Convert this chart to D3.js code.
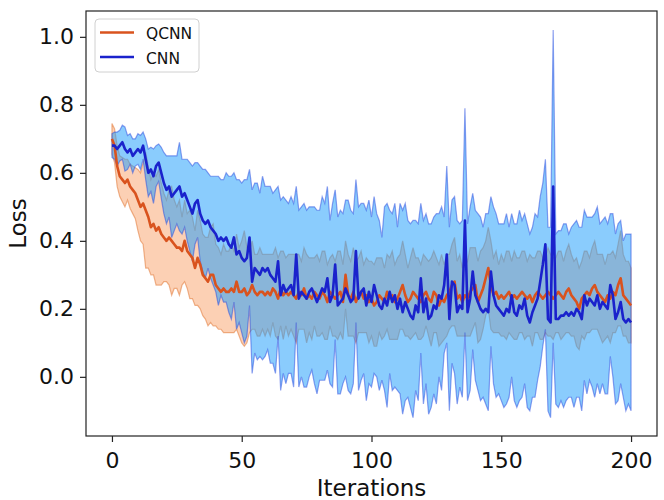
<!DOCTYPE html>
<html>
<head>
<meta charset="utf-8">
<script src="https://cdn.jsdelivr.net/npm/d3@7"></script>
<style>
    body { margin: 0; background: #fff; }
    text { font-family: 'DejaVu Sans', sans-serif; }
</style>
</head>
<body>
<div id="chart"></div>
<script>
const WIDTH = 664
const HEIGHT = 500

const seriesNames = ['QCNN', 'CNN']
const xTicks = [0, 50, 100, 150, 200]
const yTicks = [0.0, 0.2, 0.4, 0.6, 0.8, 1.0]

// mean loss per iteration
const qcnnMean = [
    0.70, 0.68, 0.62, 0.59, 0.58, 0.57, 0.58, 0.56, 0.55, 0.54,
    0.52, 0.50, 0.51, 0.49, 0.47, 0.44, 0.45, 0.43, 0.44, 0.42,
    0.41, 0.40, 0.41, 0.40, 0.39, 0.38, 0.38, 0.37, 0.40, 0.37,
    0.36, 0.35, 0.32, 0.35, 0.33, 0.30, 0.29, 0.28, 0.30, 0.30,
    0.27, 0.26, 0.25, 0.26, 0.25, 0.25, 0.26, 0.25, 0.28, 0.25,
    0.25, 0.26, 0.24, 0.25, 0.27, 0.25, 0.24, 0.25, 0.25, 0.24,
    0.25, 0.24, 0.26, 0.25, 0.23, 0.26, 0.24, 0.25, 0.24, 0.25,
    0.24, 0.23, 0.25, 0.24, 0.26, 0.23, 0.24, 0.23, 0.25, 0.24,
    0.23, 0.25, 0.24, 0.22, 0.25, 0.24, 0.23, 0.24, 0.25, 0.22,
    0.30, 0.24, 0.23, 0.25, 0.22, 0.24, 0.25, 0.23, 0.24, 0.22,
    0.23, 0.21, 0.22, 0.24, 0.23, 0.22, 0.25, 0.23, 0.24, 0.22,
    0.23, 0.25, 0.27, 0.24, 0.22, 0.23, 0.25, 0.24, 0.23, 0.22,
    0.24, 0.25, 0.23, 0.22, 0.25, 0.24, 0.21, 0.23, 0.22, 0.24,
    0.25, 0.27, 0.28, 0.23, 0.24, 0.22, 0.24, 0.23, 0.25, 0.26,
    0.27, 0.22, 0.24, 0.26, 0.29, 0.32, 0.27, 0.24, 0.25, 0.23,
    0.24, 0.23, 0.24, 0.25, 0.23, 0.24, 0.23, 0.24, 0.25, 0.24,
    0.23, 0.24, 0.22, 0.24, 0.25, 0.24, 0.23, 0.24, 0.25, 0.24,
    0.23, 0.24, 0.25, 0.24, 0.23, 0.25, 0.26, 0.24, 0.23, 0.22,
    0.20, 0.23, 0.24, 0.25, 0.24, 0.26, 0.27, 0.25, 0.24, 0.23,
    0.22, 0.24, 0.23, 0.25, 0.24, 0.27, 0.29, 0.24, 0.23, 0.22,
    0.21
]
const qcnnStd = [
    0.045, 0.05, 0.06, 0.06, 0.065, 0.07, 0.06, 0.065, 0.07, 0.075,
    0.09, 0.10, 0.12, 0.17, 0.15, 0.14, 0.15, 0.16, 0.17, 0.15,
    0.13, 0.12, 0.14, 0.16, 0.13, 0.12, 0.14, 0.10, 0.12, 0.11,
    0.13, 0.12, 0.11, 0.14, 0.13, 0.12, 0.12, 0.13, 0.14, 0.15,
    0.12, 0.12, 0.11, 0.13, 0.12, 0.12, 0.13, 0.12, 0.14, 0.13,
    0.15, 0.17, 0.14, 0.12, 0.13, 0.11, 0.12, 0.13, 0.11, 0.12,
    0.11, 0.12, 0.10, 0.13, 0.12, 0.11, 0.13, 0.10, 0.12, 0.11,
    0.12, 0.13, 0.11, 0.10, 0.12, 0.13, 0.11, 0.12, 0.10, 0.12,
    0.11, 0.12, 0.13, 0.11, 0.10, 0.12, 0.11, 0.13, 0.12, 0.11,
    0.10, 0.12, 0.11, 0.13, 0.12, 0.11, 0.12, 0.10, 0.11, 0.12,
    0.11, 0.12, 0.13, 0.11, 0.12, 0.10, 0.11, 0.12, 0.13, 0.11,
    0.12, 0.11, 0.13, 0.12, 0.10, 0.12, 0.13, 0.11, 0.12, 0.11,
    0.12, 0.10, 0.11, 0.13, 0.12, 0.11, 0.12, 0.13, 0.11, 0.12,
    0.11, 0.12, 0.13, 0.11, 0.12, 0.10, 0.12, 0.11, 0.13, 0.12,
    0.11, 0.12, 0.13, 0.12, 0.11, 0.12, 0.13, 0.11, 0.12, 0.10,
    0.12, 0.11, 0.13, 0.12, 0.11, 0.13, 0.12, 0.11, 0.12, 0.13,
    0.11, 0.12, 0.13, 0.11, 0.12, 0.13, 0.12, 0.11, 0.13, 0.12,
    0.12, 0.11, 0.12, 0.13, 0.11, 0.12, 0.13, 0.12, 0.11, 0.13,
    0.12, 0.11, 0.13, 0.12, 0.11, 0.12, 0.13, 0.11, 0.12, 0.13,
    0.11, 0.12, 0.13, 0.12, 0.11, 0.12, 0.14, 0.12, 0.11, 0.12,
    0.11
]
const cnnMean = [
    0.68, 0.68, 0.67, 0.68, 0.69, 0.67, 0.66, 0.67, 0.65, 0.66,
    0.67, 0.66, 0.68, 0.64, 0.60, 0.61, 0.59, 0.62, 0.63, 0.60,
    0.57, 0.55, 0.56, 0.53, 0.54, 0.55, 0.56, 0.53, 0.54, 0.52,
    0.50, 0.48, 0.51, 0.52, 0.48, 0.46, 0.45, 0.46, 0.44, 0.43,
    0.42, 0.40, 0.41, 0.40, 0.41, 0.39, 0.38, 0.41, 0.36, 0.37,
    0.35, 0.34, 0.35, 0.41, 0.28, 0.32, 0.31, 0.30, 0.32, 0.31,
    0.32, 0.30, 0.29, 0.28, 0.34, 0.24, 0.27, 0.25, 0.26, 0.27,
    0.24, 0.36, 0.23, 0.25, 0.24, 0.23, 0.25, 0.26, 0.24, 0.22,
    0.24, 0.26, 0.25, 0.29, 0.22, 0.24, 0.33, 0.21, 0.22, 0.23,
    0.26, 0.24, 0.22, 0.23, 0.37, 0.23, 0.25, 0.26, 0.21, 0.25,
    0.22, 0.27, 0.24, 0.21, 0.20, 0.23, 0.21, 0.25, 0.22, 0.24,
    0.20, 0.23, 0.19, 0.22, 0.20, 0.18, 0.17, 0.21, 0.19, 0.29,
    0.19, 0.23, 0.17, 0.18, 0.21, 0.20, 0.24, 0.23, 0.27, 0.36,
    0.17, 0.28, 0.27, 0.19, 0.21, 0.20, 0.46, 0.19, 0.23, 0.31,
    0.24, 0.22, 0.20, 0.19, 0.20, 0.19, 0.31, 0.24, 0.21, 0.20,
    0.19, 0.18, 0.20, 0.19, 0.24, 0.19, 0.18, 0.21, 0.20, 0.23,
    0.18, 0.16, 0.19, 0.21, 0.23, 0.28, 0.33, 0.39, 0.17, 0.16,
    0.56, 0.17, 0.17, 0.18, 0.18, 0.19, 0.18, 0.19, 0.18, 0.20,
    0.19, 0.17, 0.24, 0.21, 0.23, 0.22, 0.21, 0.24, 0.20, 0.22,
    0.21, 0.20, 0.27, 0.24, 0.17, 0.19, 0.22, 0.17, 0.16, 0.17,
    0.16
]
const cnnStd = [
    0.035, 0.04, 0.05, 0.045, 0.05, 0.065, 0.05, 0.045, 0.05, 0.04,
    0.045, 0.05, 0.04, 0.06, 0.07, 0.065, 0.08, 0.06, 0.055, 0.075,
    0.09, 0.10, 0.09, 0.12, 0.11, 0.10, 0.13, 0.11, 0.10, 0.12,
    0.13, 0.14, 0.12, 0.11, 0.14, 0.15, 0.16, 0.14, 0.15, 0.16,
    0.17, 0.19, 0.17, 0.18, 0.19, 0.20, 0.21, 0.19, 0.22, 0.21,
    0.22, 0.24, 0.23, 0.20, 0.27, 0.25, 0.26, 0.24, 0.27, 0.25,
    0.24, 0.26, 0.25, 0.27, 0.22, 0.28, 0.26, 0.27, 0.25, 0.26,
    0.27, 0.20, 0.26, 0.25, 0.27, 0.26, 0.25, 0.24, 0.26, 0.27,
    0.25, 0.27, 0.26, 0.27, 0.24, 0.27, 0.22, 0.26, 0.27, 0.25,
    0.26, 0.28, 0.27, 0.25, 0.21, 0.27, 0.26, 0.25, 0.28, 0.27,
    0.25, 0.26, 0.24, 0.25, 0.21, 0.27, 0.30, 0.24, 0.26, 0.27,
    0.24, 0.28, 0.30, 0.29, 0.26, 0.27, 0.29, 0.25, 0.26, 0.22,
    0.27, 0.25, 0.28, 0.27, 0.26, 0.28, 0.24, 0.27, 0.20, 0.26,
    0.27, 0.24, 0.26, 0.27, 0.24, 0.26, 0.33, 0.26, 0.27, 0.23,
    0.25, 0.26, 0.27, 0.25, 0.28, 0.29, 0.22, 0.26, 0.27, 0.25,
    0.26, 0.27, 0.28, 0.25, 0.24, 0.26, 0.27, 0.28, 0.26, 0.25,
    0.27, 0.26, 0.25, 0.27, 0.24, 0.25, 0.24, 0.25, 0.27, 0.28,
    0.46, 0.25, 0.26, 0.25, 0.27, 0.26, 0.24, 0.25, 0.27, 0.26,
    0.25, 0.27, 0.25, 0.26, 0.24, 0.25, 0.27, 0.26, 0.25, 0.24,
    0.26, 0.25, 0.21, 0.24, 0.25, 0.26, 0.24, 0.23, 0.26, 0.25,
    0.26
]

const series = [
    { name: seriesNames[0], mean: qcnnMean, std: qcnnStd,
      line: '#d9531e', fill: '#f98e4c', fillOpacity: 0.42, edge: '#e0702a' },
    { name: seriesNames[1], mean: cnnMean, std: cnnStd,
      line: '#1a22cc', fill: '#1f9dfc', fillOpacity: 0.52, edge: '#2848e0' }
]

const frame = { left: 86, right: 657, top: 11, bottom: 436 }

const svg = d3.select('#chart')
    .append('svg')
    .attr('width', WIDTH)
    .attr('height', HEIGHT)

const x = d3.scaleLinear().domain([-10, 210]).range([frame.left, frame.right])
const y = d3.scaleLinear().domain([-0.174, 1.076]).range([frame.bottom, frame.top])

// bands first, then the mean lines on top
series.forEach(s => {
    const band = d3.area()
        .x((d, i) => x(i))
        .y0((d, i) => y(s.mean[i] - s.std[i]))
        .y1((d, i) => y(s.mean[i] + s.std[i]))

    svg.append('path')
        .attr('d', band(s.mean))
        .attr('fill', s.fill)
        .attr('fill-opacity', s.fillOpacity)
        .attr('stroke', s.edge)
        .attr('stroke-opacity', 0.5)
        .attr('stroke-width', 1.2)
})

series.forEach(s => {
    const line = d3.line()
        .x((d, i) => x(i))
        .y(d => y(d))

    svg.append('path')
        .attr('d', line(s.mean))
        .attr('fill', 'none')
        .attr('stroke', s.line)
        .attr('stroke-width', 2.6)
        .attr('stroke-linejoin', 'round')
})

// frame
svg.append('rect')
    .attr('x', frame.left)
    .attr('y', frame.top)
    .attr('width', frame.right - frame.left)
    .attr('height', frame.bottom - frame.top)
    .attr('fill', 'none')
    .attr('stroke', '#222')
    .attr('stroke-width', 1.2)

const xAxis = svg.append('g')
    .attr('transform', `translate(0,${frame.bottom})`)
    .call(d3.axisBottom(x).tickValues(xTicks).tickSize(6).tickPadding(10))
const yAxis = svg.append('g')
    .attr('transform', `translate(${frame.left},0)`)
    .call(d3.axisLeft(y).tickValues(yTicks).tickFormat(d3.format('.1f')).tickSize(6).tickPadding(6))

;[xAxis, yAxis].forEach(g => {
    g.select('.domain').remove()
    g.selectAll('.tick line').attr('stroke', '#222').attr('stroke-width', 1.2)
    g.selectAll('.tick text')
        .attr('fill', '#111')
        .style('font-family', "'DejaVu Sans', sans-serif")
        .style('font-size', '22px')
})

svg.append('text')
    .attr('x', (frame.left + frame.right) / 2)
    .attr('y', 496)
    .attr('text-anchor', 'middle')
    .style('font-size', '23px')
    .attr('fill', '#111')
    .text('Iterations')

svg.append('text')
    .attr('transform', `translate(26,${(frame.top + frame.bottom) / 2}) rotate(-90)`)
    .attr('text-anchor', 'middle')
    .style('font-size', '23px')
    .attr('fill', '#111')
    .text('Loss')

// legend
const legend = svg.append('g').attr('transform', 'translate(95,19)')

legend.append('rect')
    .attr('width', 104)
    .attr('height', 53)
    .attr('rx', 4)
    .attr('fill', '#fff')
    .attr('fill-opacity', 0.8)
    .attr('stroke', '#d0d0d0')

const item = legend.selectAll('.legend-item')
    .data(series)
    .enter()
    .append('g')
    .attr('class', 'legend-item')
    .attr('transform', (d, i) => `translate(0,${13.5 + i * 24.5})`)

item.append('line')
    .attr('x1', 5)
    .attr('x2', 39)
    .attr('stroke', d => d.line)
    .attr('stroke-width', 2.6)

item.append('text')
    .attr('x', 51)
    .attr('y', 6.5)
    .style('font-size', '15.5px')
    .attr('fill', '#111')
    .text(d => d.name)
</script>
</body>
</html>
